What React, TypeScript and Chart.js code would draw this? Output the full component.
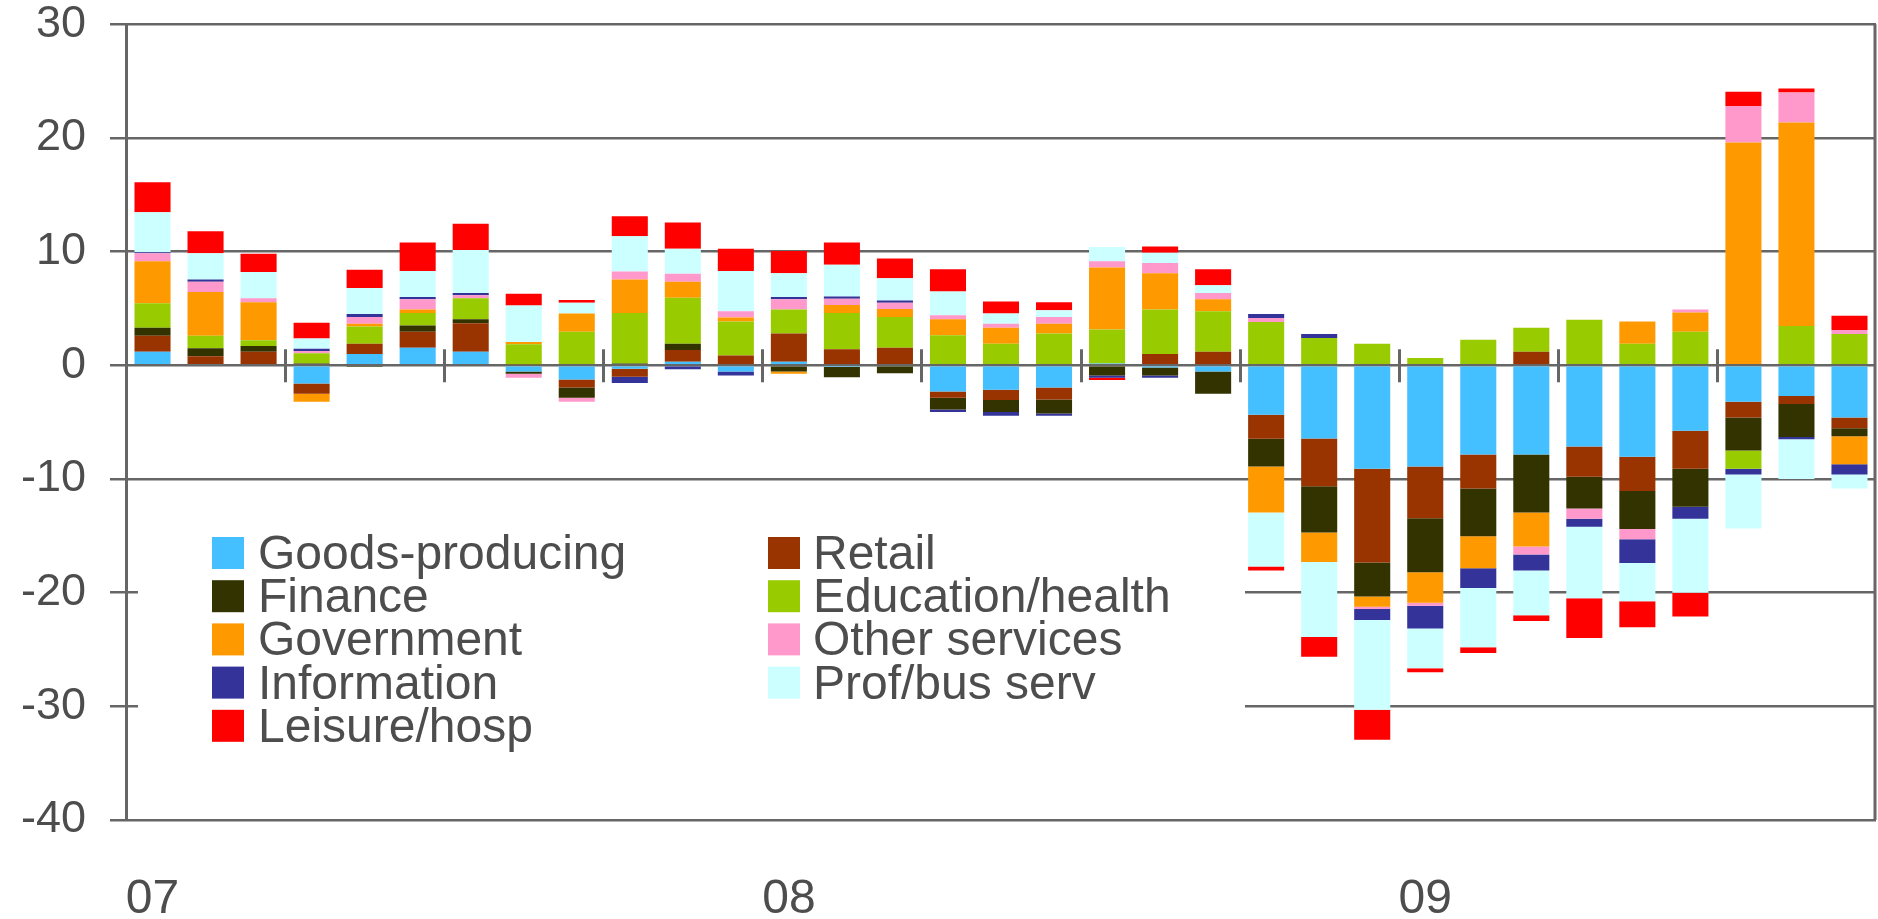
import React, { useEffect, useRef } from 'react';
import { Chart, registerables } from 'chart.js';

Chart.register(...registerables);

// ---- Data (monthly contributions, Jan 2007 - Sep 2009) ----
const months = [
  'Jan 07', 'Feb 07', 'Mar 07', 'Apr 07', 'May 07', 'Jun 07', 'Jul 07', 'Aug 07', 'Sep 07', 'Oct 07', 'Nov 07', 'Dec 07',
  'Jan 08', 'Feb 08', 'Mar 08', 'Apr 08', 'May 08', 'Jun 08', 'Jul 08', 'Aug 08', 'Sep 08', 'Oct 08', 'Nov 08', 'Dec 08',
  'Jan 09', 'Feb 09', 'Mar 09', 'Apr 09', 'May 09', 'Jun 09', 'Jul 09', 'Aug 09', 'Sep 09',
];

const xTickLabels = [
  '07', '', '', '', '', '', '', '', '', '', '', '',
  '08', '', '', '', '', '', '', '', '', '', '', '',
  '09', '', '', '', '', '', '', '', '',
];

const yTickValues = [-40, -30, -20, -10, 0, 10, 20, 30];

const goodsProducing = [
  1.2, 0.1, 0, -1.6, 1.0, 1.55, 1.2, -0.55, -1.25, -0.3, 0.3, -0.55,
  0.3, -0.15, 0, -2.3, -2.15, -1.95, 0.15, -0.2, -0.55, -4.36, -6.45, -9.1,
  -8.9, -7.85, -7.85, -7.15, -8.05, -5.75, -3.2, -2.7, -4.6,
];
const retail = [
  1.4, 0.7, 1.2, -0.9, 0.9, 1.4, 2.5, 0.1, -0.7, -0.7, 1.05, 0.85,
  2.5, 1.4, 1.55, -0.55, -0.9, -1.05, 0, 1.0, 1.2, -2.1, -4.2, -8.25,
  -4.55, -3.0, 1.2, -2.65, -3.0, -3.35, -1.4, -0.7, -0.95,
];
const finance = [
  0.7, 0.7, 0.5, 0.15, -0.15, 0.55, 0.35, -0.2, -0.9, 0.15, 0.55, 0,
  -0.55, -0.9, -0.7, -1.05, -1.05, -1.25, -0.9, -0.7, -1.95, -2.45, -4.05, -3.0,
  -4.75, -4.2, -5.1, -2.8, -3.35, -3.35, -2.9, -2.9, -0.7,
];
const educationHealth = [
  2.15, 1.1, 0.5, 0.9, 1.5, 1.1, 1.85, 1.75, 2.95, 4.45, 4.05, 3.0,
  2.1, 3.2, 2.7, 2.65, 1.9, 2.8, 3.0, 3.9, 3.55, 3.8, 2.4, 1.9,
  0.65, 2.25, 2.1, 4.0, 1.9, 2.95, -1.6, 3.45, 2.75,
];
const government = [
  3.7, 3.85, 3.35, -0.7, 0.25, 0.3, 0, 0.2, 1.6, 2.95, 1.4, 0.35,
  -0.2, 0.7, 0.7, 1.4, 1.4, 0.85, 5.45, 3.2, 1.05, -4.05, -2.6, -0.9,
  -2.7, -2.8, -3.0, 0, 1.95, 1.7, 19.6, 17.9, -2.45,
];
const otherServices = [
  0.7, 0.9, 0.35, 0.2, 0.6, 0.9, 0.25, -0.35, -0.35, 0.7, 0.7, 0.55,
  0.9, 0.55, 0.55, 0.35, 0.35, 0.6, 0.55, 0.9, 0.55, 0.35, 0, -0.2,
  -0.25, 0, -0.7, -0.9, -0.9, 0.25, 3.2, 2.65, 0.35,
];
const information = [
  0.1, 0.2, 0, 0.2, 0.25, 0.2, 0.2, 0, 0, -0.55, -0.35, -0.35,
  0.2, 0.2, 0.2, -0.2, -0.35, -0.2, -0.2, -0.2, 0, 0.35, 0.35, -0.95,
  -2.0, -1.75, -1.4, -0.7, -2.1, -1.05, -0.5, -0.2, -0.9,
];
const profBusServ = [
  3.5, 2.3, 2.3, 0.9, 2.3, 2.3, 3.8, 3.2, 0.95, 3.1, 2.2, 3.55,
  2.1, 2.8, 1.95, 2.1, 0.9, 0.6, 1.25, 0.9, 0.7, -4.75, -6.6, -7.9,
  -3.5, -5.2, -3.95, -6.3, -3.35, -6.5, -4.75, -3.5, -1.25,
];
const leisureHosp = [
  2.65, 1.95, 1.6, 1.4, 1.6, 2.5, 2.3, 1.05, 0.25, 1.75, 2.3, 1.95,
  1.95, 1.95, 1.75, 1.95, 1.05, 0.7, -0.2, 0.55, 1.4, -0.35, -1.75, -2.65,
  -0.35, -0.5, -0.5, -3.5, -2.3, -2.1, 1.25, 0.35, 1.25,
];

const seriesNames = [
  'Goods-producing', 'Retail', 'Finance', 'Education/health', 'Government',
  'Other services', 'Information', 'Prof/bus serv', 'Leisure/hosp',
];
const seriesData = [
  goodsProducing, retail, finance, educationHealth, government,
  otherServices, information, profBusServ, leisureHosp,
];
const seriesColors = [
  '#44BFFF', '#993300', '#333300', '#99CC00', '#FF9900',
  '#FF99CC', '#333399', '#CCFFFF', '#FF0000',
];

const FONT = 'Arial, "Liberation Sans", sans-serif';
const TEXT = '#4d4d4d';
const GRID = '#666666';

const framePlugin = {
  id: 'frameAndLegend',
  beforeDatasetsDraw(chart: any) {
    const { ctx, chartArea } = chart;
    const y = chart.scales.y;
    ctx.save();
    // legend background box (covers grid lines)
    ctx.fillStyle = '#ffffff';
    ctx.fillRect(138, 492, 1245 - 138, 306);
    // legend items: two columns, row-major
    ctx.font = `48px ${FONT}`;
    ctx.textBaseline = 'alphabetic';
    ctx.textAlign = 'left';
    const colX = [212, 768];
    const textOff = [46, 45];
    const rowTop = 537;
    const rowGap = 43.2;
    chart.data.datasets.forEach((ds: any, i: number) => {
      const col = i % 2;
      const row = Math.floor(i / 2);
      const mx = colX[col];
      const my = rowTop + row * rowGap;
      ctx.fillStyle = ds.backgroundColor;
      ctx.fillRect(mx, my, 32, 32);
      ctx.fillStyle = TEXT;
      ctx.fillText(ds.label, mx + textOff[col], my + 32);
    });
    // quarter separators across the zero line
    const zeroY = y.getPixelForValue(0);
    const n = chart.data.labels.length;
    const catW = (chartArea.right - chartArea.left) / n;
    ctx.strokeStyle = GRID;
    ctx.lineWidth = 3;
    for (let i = 3; i < n; i += 3) {
      const px = Math.round(chartArea.left + i * catW) + 0.5;
      ctx.beginPath();
      ctx.moveTo(px, zeroY - 16);
      ctx.lineTo(px, zeroY + 17);
      ctx.stroke();
    }
    ctx.restore();
  },
  afterDraw(chart: any) {
    const { ctx, chartArea } = chart;
    ctx.save();
    ctx.strokeStyle = GRID;
    ctx.lineWidth = 3;
    ctx.beginPath();
    ctx.moveTo(chartArea.right - 1, chartArea.top);
    ctx.lineTo(chartArea.right - 1, chartArea.bottom);
    ctx.stroke();
    ctx.restore();
  },
};

export default function App() {
  const canvasRef = useRef<HTMLCanvasElement | null>(null);

  useEffect(() => {
    document.body.style.margin = '0';
    document.body.style.overflow = 'hidden';
    const canvas = canvasRef.current;
    if (!canvas) return;
    const chart = new Chart(canvas, {
      type: 'bar',
      data: {
        labels: months,
        datasets: seriesNames.map((name, i) => ({
          label: name,
          data: seriesData[i],
          backgroundColor: seriesColors[i],
          borderWidth: 0,
          barPercentage: 0.68,
          categoryPercentage: 1.0,
        })),
      },
      options: {
        responsive: false,
        animation: false,
        layout: { padding: { top: 24, right: 2, bottom: 0, left: 0 } },
        plugins: {
          legend: { display: false },
          tooltip: { enabled: false },
          title: { display: false },
        },
        scales: {
          x: {
            stacked: true,
            grid: { display: false, drawTicks: false },
            border: { display: false },
            ticks: {
              autoSkip: false,
              maxRotation: 0,
              minRotation: 0,
              padding: 0,
              color: TEXT,
              font: { family: FONT, size: 48, lineHeight: '160px' },
              callback: (_v: any, i: number) => xTickLabels[i],
            },
            afterFit: (scale: any) => { scale.height = 99; },
          },
          y: {
            stacked: true,
            min: -40,
            max: 30,
            afterBuildTicks: (scale: any) => {
              scale.ticks = yTickValues.map((v) => ({ value: v }));
            },
            grid: {
              color: GRID,
              lineWidth: 2.5,
              drawTicks: true,
              tickLength: 16,
              tickColor: GRID,
              tickWidth: 2.5,
            },
            border: { display: true, color: GRID, width: 3 },
            ticks: {
              padding: 24,
              color: TEXT,
              font: { family: FONT, size: 45, lineHeight: 0.01 },
              callback: (v: any) => String(v),
            },
            afterFit: (scale: any) => { scale.width = 126; },
          },
        },
      },
      plugins: [framePlugin],
    });
    return () => chart.destroy();
  }, []);

  return (
    <div style={{ width: 1878, height: 919, background: '#ffffff' }}>
      <canvas ref={canvasRef} width={1878} height={919} style={{ display: 'block' }} />
    </div>
  );
}
